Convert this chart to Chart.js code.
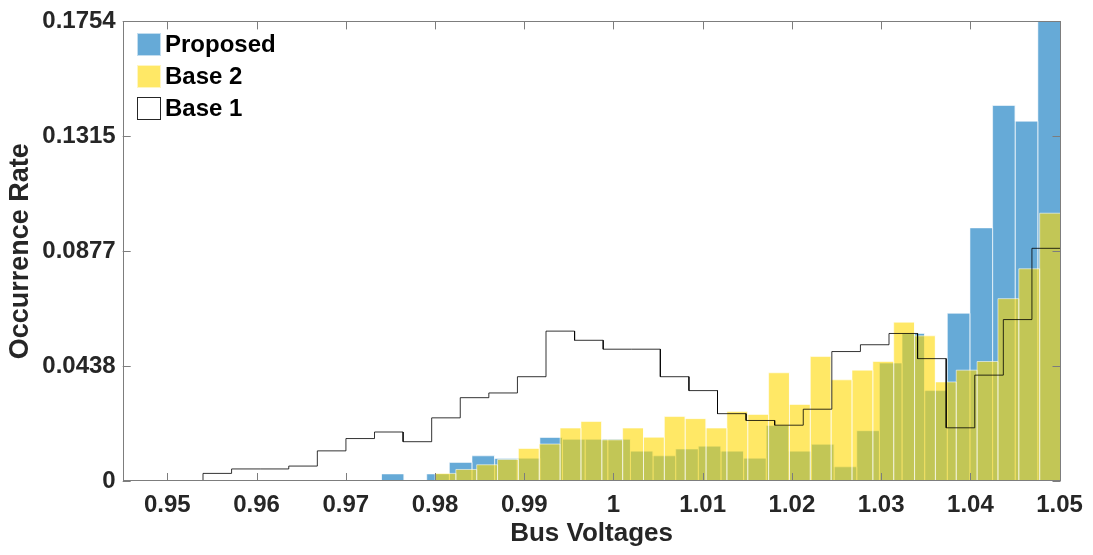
<!DOCTYPE html>
<html>
<head>
<meta charset="utf-8">
<script src="https://cdn.jsdelivr.net/npm/chart.js@4.4.1/dist/chart.umd.min.js"></script>
<style>
    html, body { margin: 0; padding: 0; background: #fff; }
    #wrap { width: 1093px; height: 555px; }
</style>
</head>
<body>
<div id="wrap"><canvas id="chart" width="1093" height="555"></canvas></div>
<script>
// every run is binned into 30 equal bins between its lowest and highest bus voltage
var binCount = 30;
var proposedLimits = [0.974, 1.0501];
var base2Limits = [0.98, 1.0501];
var base1Limits = [0.954, 1.0501];

// occurrence rate per bin (probability normalisation)
var proposedRates = [0.0027, 0, 0.0027, 0.0071, 0.0096, 0.0086, 0.0087, 0.0166, 0.0159, 0.0159,
    0.0159, 0.0114, 0.0096, 0.0122, 0.0133, 0.0114, 0.0087, 0.0212, 0.0114, 0.0140,
    0.0054, 0.0192, 0.0450, 0.0563, 0.0345, 0.0640, 0.0966, 0.1433, 0.1373, 0.1754];
var base2Rates = [0.0029, 0.0044, 0.0062, 0.0082, 0.0124, 0.0141, 0.0202, 0.0227, 0.0157, 0.0202,
    0.0167, 0.0246, 0.0238, 0.0202, 0.0265, 0.0254, 0.0413, 0.0292, 0.0475, 0.0386,
    0.0423, 0.0456, 0.0606, 0.0554, 0.0378, 0.0423, 0.0456, 0.0696, 0.0810, 0.1022];
var base1Rates = [0.0029, 0.0046, 0.0046, 0.0057, 0.0115, 0.0162, 0.0187, 0.0150, 0.0241, 0.0318,
    0.0336, 0.0398, 0.0572, 0.0537, 0.0503, 0.0503, 0.0398, 0.0345, 0.0257, 0.0231,
    0.0213, 0.0274, 0.0494, 0.0520, 0.0563, 0.0467, 0.0203, 0.0404, 0.0616, 0.0888];

var xTicks = [0.95, 0.96, 0.97, 0.98, 0.99, 1, 1.01, 1.02, 1.03, 1.04, 1.05];
var yTicks = [0, 0.04385, 0.0877, 0.13155, 0.1754];
var yTickLabels = ['0', '0.0438', '0.0877', '0.1315', '0.1754'];

var fontFamily = '"Liberation Sans", Arial, Helvetica, sans-serif';
var textColor = '#262626';

function binEdges(limits) {
    var step = (limits[1] - limits[0]) / binCount, edges = [];
    for (var i = 0; i <= binCount; i++) edges.push(limits[0] + i * step);
    return edges;
}

// outline of every bar down to the baseline, so the pale edges show between bins
function barOutline(limits, rates) {
    var e = binEdges(limits), pts = [];
    rates.forEach(function (r, i) {
        pts.push({x: e[i], y: 0}, {x: e[i], y: r}, {x: e[i + 1], y: r}, {x: e[i + 1], y: 0});
    });
    return pts;
}

function stairs(limits, rates) {
    var e = binEdges(limits), pts = [{x: e[0], y: 0}];
    rates.forEach(function (r, i) {
        pts.push({x: e[i], y: r}, {x: e[i + 1], y: r});
    });
    pts.push({x: e[binCount], y: 0});
    return pts;
}

// matlab style box with ticks pointing inwards
var axesBox = {
    id: 'axesBox',
    afterDatasetsDraw: function (chart) {
        var ctx = chart.ctx, a = chart.chartArea, sx = chart.scales.x, sy = chart.scales.y, len = 8;
        ctx.save();
        ctx.strokeStyle = '#7d7d7d';
        ctx.lineWidth = 1;
        ctx.beginPath();
        sx.ticks.forEach(function (t) {
            var px = Math.round(sx.getPixelForValue(t.value)) + 0.5;
            ctx.moveTo(px, a.bottom); ctx.lineTo(px, a.bottom - len);
            ctx.moveTo(px, a.top); ctx.lineTo(px, a.top + len);
        });
        sy.ticks.forEach(function (t) {
            var py = Math.round(sy.getPixelForValue(t.value)) + 0.5;
            ctx.moveTo(a.left, py); ctx.lineTo(a.left + len, py);
            ctx.moveTo(a.right, py); ctx.lineTo(a.right - len, py);
        });
        ctx.stroke();
        ctx.strokeRect(Math.round(a.left) + 0.5, Math.round(a.top) + 0.5,
            Math.round(a.right - a.left) - 1, Math.round(a.bottom - a.top) - 1);
        ctx.restore();
    }
};

// legend in the upper left corner of the axes, text close to the swatches
var cornerLegend = {
    id: 'cornerLegend',
    afterDraw: function (chart) {
        var ctx = chart.ctx, a = chart.chartArea;
        ctx.save();
        ctx.font = 'bold 24px ' + fontFamily;
        ctx.textBaseline = 'middle';
        ctx.textAlign = 'left';
        chart.data.datasets.forEach(function (ds, i) {
            var left = Math.round(a.left) + 14, top = Math.round(a.top + 12 + i * 31.6);
            ctx.fillStyle = ds.backgroundColor;
            ctx.fillRect(left, top, 24, 23);
            ctx.lineWidth = 1;
            ctx.strokeStyle = ds.fill ? 'rgba(255, 255, 255, 0.6)' : '#262626';
            ctx.strokeRect(left + 0.5, top + 0.5, 23, 22);
            ctx.fillStyle = '#000000';
            ctx.fillText(ds.label, left + 28, top + 12.5);
        });
        ctx.restore();
    }
};

new Chart(document.getElementById('chart'), {
    type: 'line',
    data: {
        datasets: [{
            label: 'Proposed',
            data: barOutline(proposedLimits, proposedRates),
            backgroundColor: 'rgba(0, 114, 189, 0.6)',
            borderColor: 'rgba(255, 255, 255, 0.55)',
            borderWidth: 1,
            fill: 'origin',
            order: 3
        }, {
            label: 'Base 2',
            data: barOutline(base2Limits, base2Rates),
            backgroundColor: 'rgba(255, 217, 0, 0.6)',
            borderColor: 'rgba(255, 255, 255, 0.55)',
            borderWidth: 1,
            fill: 'origin',
            order: 2
        }, {
            label: 'Base 1',
            data: stairs(base1Limits, base1Rates),
            backgroundColor: '#ffffff',
            borderColor: 'rgba(0, 0, 0, 0.8)',
            borderWidth: 1,
            fill: false,
            order: 1
        }]
    },
    options: {
        responsive: false,
        animation: false,
        events: [],
        elements: {
            point: { radius: 0 },
            line: { tension: 0 }
        },
        layout: { padding: { left: 0, top: 18, right: 31, bottom: 0 } },
        scales: {
            x: {
                type: 'linear',
                min: 0.945,
                max: 1.0501,
                grid: { display: false, drawTicks: false },
                border: { display: false },
                afterBuildTicks: function (s) {
                    s.ticks = xTicks.map(function (v) { return {value: v}; });
                },
                afterFit: function (s) { s.height = 74; },
                ticks: {
                    autoSkip: false,
                    maxRotation: 0,
                    padding: 10,
                    color: textColor,
                    font: { family: fontFamily, size: 24, weight: 'bold' },
                    callback: function (v) { return String(+v.toFixed(2)); }
                },
                title: {
                    display: true,
                    text: 'Bus Voltages',
                    color: textColor,
                    padding: { top: 0, bottom: 6 },
                    font: { family: fontFamily, size: 26, weight: 'bold' }
                }
            },
            y: {
                min: 0,
                max: 0.1754,
                grid: { display: false, drawTicks: false },
                border: { display: false },
                afterBuildTicks: function (s) {
                    s.ticks = yTicks.map(function (v) { return {value: v}; });
                },
                afterFit: function (s) { s.width = 122.7; },
                ticks: {
                    padding: 7,
                    color: textColor,
                    font: { family: fontFamily, size: 24, weight: 'bold' },
                    callback: function (v, i) { return yTickLabels[i]; }
                },
                title: {
                    display: true,
                    text: 'Occurrence Rate',
                    color: textColor,
                    padding: { top: 4, bottom: 0 },
                    font: { family: fontFamily, size: 27, weight: 'bold' }
                }
            }
        },
        plugins: {
            tooltip: { enabled: false },
            legend: { display: false }
        }
    },
    plugins: [axesBox, cornerLegend]
});
</script>
</body>
</html>
